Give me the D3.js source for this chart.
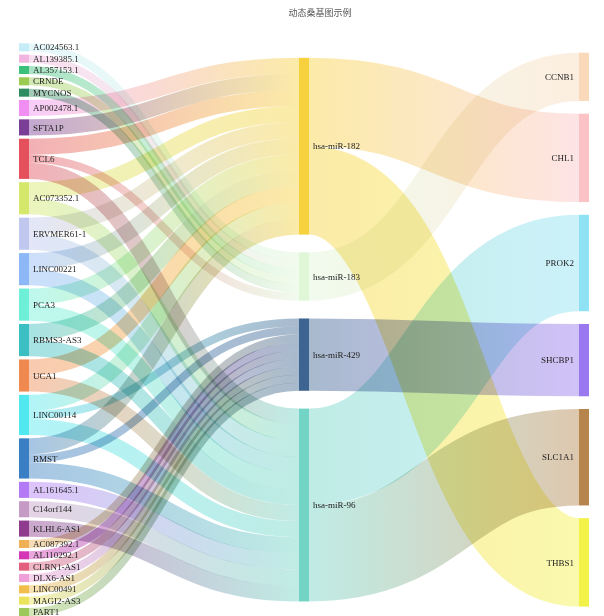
<!DOCTYPE html>
<html>
<head>
<meta charset="utf-8">
<script src="https://cdn.jsdelivr.net/npm/d3@7"></script>
<style>
  body { margin: 0; background: #fff; overflow: hidden; }
</style>
</head>
<body>
<div id="chart"></div>
<script>
// left column (lncRNA), middle (miRNA), right (mRNA)
const lncRNAs = [
	'AC024563.1', 'AL139385.1', 'AL357153.1', 'CRNDE', 'MYCNOS', 'AP002478.1', 'SFTA1P',
	'TCL6', 'AC073352.1', 'ERVMER61-1', 'LINC00221', 'PCA3', 'RBMS3-AS3', 'UCA1',
	'LINC00114', 'RMST', 'AL161645.1', 'C14orf144', 'KLHL6-AS1', 'AC087392.1',
	'AL110292.1', 'CLRN1-AS1', 'DLX6-AS1', 'LINC00491', 'MAGI2-AS3', 'PART1'
]
const miRNAs = [ 'hsa-miR-182', 'hsa-miR-183', 'hsa-miR-429', 'hsa-miR-96' ]
const mRNAs = [ 'CCNB1', 'CHL1', 'PROK2', 'SHCBP1', 'SLC1A1', 'THBS1' ]

// [source, target, value]
const lncToMir = [
	[ 'AC024563.1', 'hsa-miR-183', 1 ],
	[ 'AL139385.1', 'hsa-miR-183', 1 ],
	[ 'AL357153.1', 'hsa-miR-183', 1 ],
	[ 'CRNDE', 'hsa-miR-183', 1 ],
	[ 'MYCNOS', 'hsa-miR-183', 1 ],
	[ 'AP002478.1', 'hsa-miR-182', 2 ],
	[ 'SFTA1P', 'hsa-miR-182', 2 ],
	[ 'TCL6', 'hsa-miR-182', 2 ],
	[ 'TCL6', 'hsa-miR-183', 1 ],
	[ 'TCL6', 'hsa-miR-96', 2 ],
	[ 'AC073352.1', 'hsa-miR-182', 2 ],
	[ 'AC073352.1', 'hsa-miR-96', 2 ],
	[ 'ERVMER61-1', 'hsa-miR-182', 2 ],
	[ 'ERVMER61-1', 'hsa-miR-96', 2 ],
	[ 'LINC00221', 'hsa-miR-182', 2 ],
	[ 'LINC00221', 'hsa-miR-96', 2 ],
	[ 'PCA3', 'hsa-miR-182', 2 ],
	[ 'PCA3', 'hsa-miR-96', 2 ],
	[ 'RBMS3-AS3', 'hsa-miR-182', 2 ],
	[ 'RBMS3-AS3', 'hsa-miR-96', 2 ],
	[ 'UCA1', 'hsa-miR-182', 2 ],
	[ 'UCA1', 'hsa-miR-96', 2 ],
	[ 'LINC00114', 'hsa-miR-182', 2 ],
	[ 'LINC00114', 'hsa-miR-429', 1 ],
	[ 'LINC00114', 'hsa-miR-96', 2 ],
	[ 'RMST', 'hsa-miR-182', 2 ],
	[ 'RMST', 'hsa-miR-429', 1 ],
	[ 'RMST', 'hsa-miR-96', 2 ],
	[ 'AL161645.1', 'hsa-miR-96', 2 ],
	[ 'C14orf144', 'hsa-miR-96', 2 ],
	[ 'KLHL6-AS1', 'hsa-miR-96', 2 ],
	[ 'AC087392.1', 'hsa-miR-429', 1 ],
	[ 'AL110292.1', 'hsa-miR-429', 1 ],
	[ 'CLRN1-AS1', 'hsa-miR-429', 1 ],
	[ 'DLX6-AS1', 'hsa-miR-429', 1 ],
	[ 'LINC00491', 'hsa-miR-429', 1 ],
	[ 'MAGI2-AS3', 'hsa-miR-429', 1 ],
	[ 'PART1', 'hsa-miR-429', 1 ]
]
const mirToGene = [
	[ 'hsa-miR-182', 'CHL1', 11 ],
	[ 'hsa-miR-182', 'THBS1', 11 ],
	[ 'hsa-miR-183', 'CCNB1', 6 ],
	[ 'hsa-miR-429', 'SHCBP1', 9 ],
	[ 'hsa-miR-96', 'PROK2', 12 ],
	[ 'hsa-miR-96', 'SLC1A1', 12 ]
]

const nodeColor = {
	'AC024563.1': '#c6edf7', 'AL139385.1': '#f1b5df', 'AL357153.1': '#3cc17c', 'CRNDE': '#9bcb52',
	'MYCNOS': '#2f8b60', 'AP002478.1': '#f08ef2', 'SFTA1P': '#7b3e97', 'TCL6': '#e4505c',
	'AC073352.1': '#d5e86b', 'ERVMER61-1': '#c0c8f0', 'LINC00221': '#8cb8f7', 'PCA3': '#6ef0d8',
	'RBMS3-AS3': '#3bbfc2', 'UCA1': '#f0894f', 'LINC00114': '#52e8f0', 'RMST': '#3a7fc3',
	'AL161645.1': '#b47af6', 'C14orf144': '#c59bc6', 'KLHL6-AS1': '#8f3c8e', 'AC087392.1': '#f0b055',
	'AL110292.1': '#d436b5', 'CLRN1-AS1': '#e35f80', 'DLX6-AS1': '#f0a0d8', 'LINC00491': '#f2be4b',
	'MAGI2-AS3': '#ebe35b', 'PART1': '#9cc95a',
	'hsa-miR-182': '#f7d23e', 'hsa-miR-183': '#dff6d7', 'hsa-miR-429': '#3e6591', 'hsa-miR-96': '#72d4c5',
	'CCNB1': '#f9d9b9', 'CHL1': '#fbc3c5', 'PROK2': '#8fe2f4', 'SHCBP1': '#9a78f0',
	'SLC1A1': '#b5854d', 'THBS1': '#f3f248'
}

const width = 604
const height = 616
const extent = {x0: 19, y0: 43.3, x1: 589, y1: 616}
const nodeWidth = 10
const nodePadding = 3.3

// sankey layout without relaxation (d3-sankey with nodeSort(null) and iterations(0));
// d3-sankey itself is not on the page, so the steps are written out here
const sankeyLayout = (names, rows) => {
	const {x0, y0, x1, y1} = extent
	const nodes = names.map((name, index) => ({name, index, sourceLinks: [], targetLinks: []}))
	const byName = new Map(nodes.map(d => [ d.name, d ]))
	const links = rows.map(([ s, t, value ], index) => ({source: byName.get(s), target: byName.get(t), value, index}))
	links.forEach(l => {l.source.sourceLinks.push(l); l.target.targetLinks.push(l)})
	nodes.forEach(n => {
		n.value = Math.max(d3.sum(n.sourceLinks, l => l.value), d3.sum(n.targetLinks, l => l.value))
	})

	// column of each node
	let current = new Set(nodes), next = new Set(), depth = 0
	while (current.size) {
		current.forEach(n => {n.depth = depth; n.sourceLinks.forEach(l => next.add(l.target))})
		depth++; current = next; next = new Set()
	}
	const nLayers = depth
	const x = d3.scaleLinear().domain([ 0, nLayers - 1 ]).range([ x0, x1 - nodeWidth ])
	const columns = d3.range(nLayers).map(() => [])
	nodes.forEach(n => {
		const i = n.sourceLinks.length ? n.depth : nLayers - 1
		n.x0 = x(i)
		n.x1 = n.x0 + nodeWidth
		columns[ i ].push(n)
	})

	const py = Math.min(nodePadding, (y1 - y0) / (d3.max(columns, c => c.length) - 1))
	const ky = d3.min(columns, c => (y1 - y0 - (c.length - 1) * py) / d3.sum(c, d => d.value))
	columns.forEach(col => {
		let y = y0
		col.forEach(n => {
			n.y0 = y
			n.y1 = y + n.value * ky
			y = n.y1 + py
			n.sourceLinks.forEach(l => {l.width = l.value * ky})
		})
		// spread the spare height evenly
		y = (y1 - y + py) / (col.length + 1)
		col.forEach((n, i) => {n.y0 += y * (i + 1); n.y1 += y * (i + 1)})
	})

	const byY = (a, b) => a.y0 - b.y0
	nodes.forEach(n => {
		n.sourceLinks.sort((a, b) => byY(a.target, b.target) || a.index - b.index)
		n.targetLinks.sort((a, b) => byY(a.source, b.source) || a.index - b.index)
		let ys = n.y0, yt = n.y0
		n.sourceLinks.forEach(l => {l.y0 = ys + l.width / 2; ys += l.width})
		n.targetLinks.forEach(l => {l.y1 = yt + l.width / 2; yt += l.width})
	})
	return {nodes, links}
}

const {nodes, links} = sankeyLayout([ ...lncRNAs, ...miRNAs, ...mRNAs ], [ ...lncToMir, ...mirToGene ])

const svg = d3.select('#chart').append('svg')
	.attr('width', width)
	.attr('height', height)

svg.append('text')
	.attr('x', 320)
	.attr('y', 16)
	.attr('text-anchor', 'middle')
	.style('font-family', '"Noto Sans CJK SC", sans-serif')
	.style('font-size', '9px')
	.style('fill', '#555')
	.text('动态桑基图示例')

const defs = svg.append('defs')
const grad = defs.selectAll('linearGradient')
	.data(links)
	.join('linearGradient')
	.attr('id', (d, i) => 'lg' + i)
	.attr('gradientUnits', 'userSpaceOnUse')
	.attr('x1', d => d.source.x1)
	.attr('x2', d => d.target.x0)
grad.append('stop').attr('offset', '0%').attr('stop-color', d => nodeColor[ d.source.name ])
grad.append('stop').attr('offset', '100%').attr('stop-color', d => nodeColor[ d.target.name ])

const linkPath = d3.linkHorizontal()
	.source(d => [ d.source.x1, d.y0 ])
	.target(d => [ d.target.x0, d.y1 ])

svg.append('g')
	.attr('fill', 'none')
	.attr('stroke-opacity', 0.45)
	.selectAll('path')
	.data(links)
	.join('path')
	.attr('d', linkPath)
	.attr('stroke', (d, i) => `url(#lg${ i })`)
	.attr('stroke-width', d => Math.max(1, d.width))
	.style('mix-blend-mode', 'multiply')

svg.append('g')
	.selectAll('rect')
	.data(nodes)
	.join('rect')
	.attr('x', d => d.x0)
	.attr('y', d => d.y0)
	.attr('width', d => d.x1 - d.x0)
	.attr('height', d => d.y1 - d.y0)
	.attr('fill', d => nodeColor[ d.name ])

svg.append('g')
	.style('font-family', '"Liberation Serif", "Times New Roman", serif')
	.style('font-size', '9px')
	.selectAll('text')
	.data(nodes)
	.join('text')
	.attr('x', d => d.x0 < width / 2 ? d.x1 + 4 : d.x0 - 5)
	.attr('y', d => (d.y0 + d.y1) / 2)
	.attr('dy', '0.35em')
	.attr('text-anchor', d => d.x0 < width / 2 ? 'start' : 'end')
	.style('fill', '#222')
	.text(d => d.name)
</script>
</body>
</html>
